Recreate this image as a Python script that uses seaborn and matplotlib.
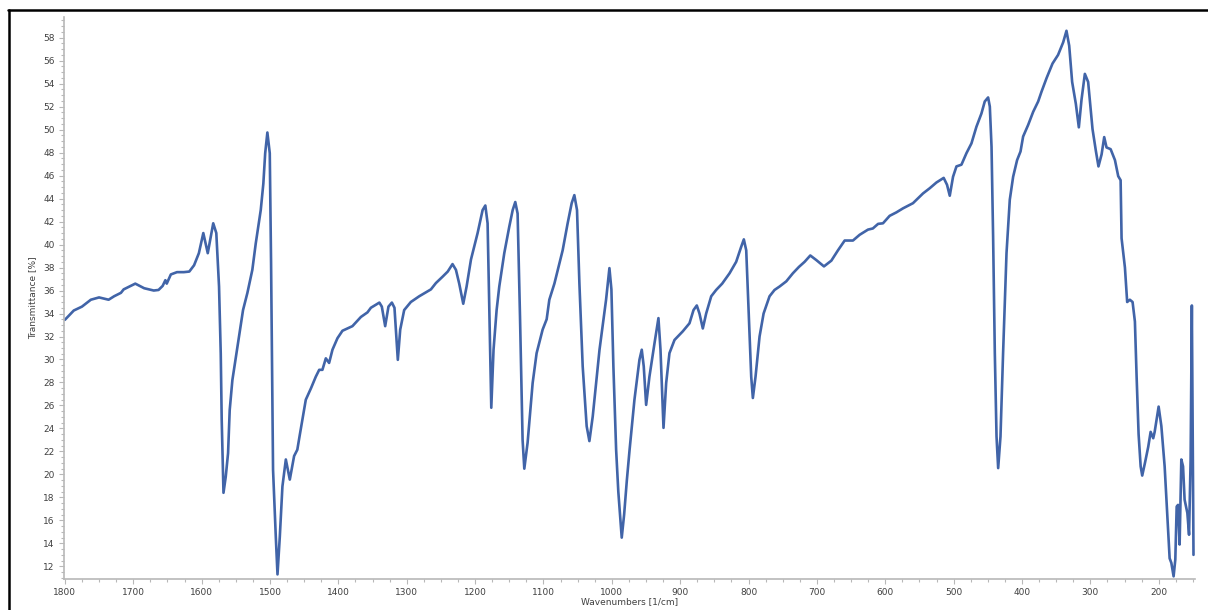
import matplotlib
matplotlib.use("Agg")
import matplotlib.pyplot as plt
from matplotlib.lines import Line2D
from matplotlib.ticker import MultipleLocator
import pandas as pd
import seaborn as sns

# Spectrum (wavenumber in 1/cm, transmittance in %)
wavenumbers = [
    1800, 1787, 1775, 1762, 1750, 1736, 1728, 1718, 1714, 1697, 1684, 1670,
    1663, 1657, 1653, 1651, 1645, 1636, 1626, 1618, 1611, 1604, 1597.5, 1591,
    1583, 1578.5, 1574.5, 1572, 1570.6, 1568, 1564.7, 1561.3, 1558.9, 1555,
    1549, 1543, 1539.4, 1533, 1525.8, 1520.8, 1513.5, 1509.7, 1507, 1503.8,
    1500.3, 1498.4, 1495.5, 1491.5, 1489, 1485.6, 1481.8, 1476.8, 1471, 1464.7,
    1460, 1456.5, 1447.6, 1440, 1433, 1428, 1423.3, 1418.3, 1413.5, 1408.6,
    1401.3, 1394, 1379.4, 1367, 1357.4, 1352.4, 1340, 1336.4, 1331.5, 1326.7,
    1321.7, 1317.9, 1313, 1309.5, 1303.7, 1294, 1281.7, 1264.6, 1257.3, 1247.6,
    1240, 1233, 1228, 1223.2, 1217.3, 1212.4, 1206, 1196.3, 1189, 1185,
    1181.7, 1179.2, 1176.3, 1173, 1168.5, 1164.6, 1157.3, 1150, 1145, 1141.2,
    1137.8, 1134.3, 1130.5, 1128, 1123.2, 1115.8, 1110, 1101.2, 1095.3, 1091.4,
    1084, 1071.9, 1064.6, 1058.7, 1054.8, 1050.9, 1047.4, 1042.6, 1036.8, 1032.8,
    1027.9, 1018, 1008.4, 1003.5, 1000.6, 997.7, 993.7, 990.5, 988, 985.5,
    982, 978, 974, 966.9, 959.6, 956.2, 953.3, 949.8, 945, 937.6,
    931.8, 928.8, 924.4, 920.5, 915.7, 908.3, 896.2, 886.4, 880.5, 875.7,
    871.8, 866.9, 862, 854.6, 847.4, 838.6, 827.8, 818.1, 810.8, 806.9,
    803.4, 799.6, 796.1, 793.7, 789.8, 783.9, 778, 769.3, 762, 754.6,
    744.8, 735.2, 726.4, 718, 709.7, 700.9, 689.7, 678.9, 669.2, 659.4,
    647.3, 637.5, 625.3, 618.2, 610.5, 603.4, 593.6, 583.8, 574.1, 559.5,
    544.8, 535, 525.2, 514.6, 509.7, 505.7, 500.9, 495.9, 488.6, 481.3,
    474, 466.7, 459.4, 454.5, 449.6, 447.1, 444.6, 442.3, 439.8, 437.3,
    434.9, 431.5, 427.7, 422.7, 417.9, 413, 407.2, 402.2, 398.4, 391.1,
    383.7, 376.4, 371.5, 364, 355.4, 347.3, 339.8, 335, 331, 326.7,
    321.3, 316.9, 313, 308.1, 303.3, 296.9, 292, 288.2, 283.6, 279.8,
    276.4, 270.4, 264.1, 259.3, 255.8, 254.4, 249.5, 246.2, 242.3, 238.3,
    234.9, 232.4, 229.5, 226.5, 224.2, 220.2, 215.4, 211.9, 208.1, 206,
    200.2, 196.2, 191.4, 187.4, 184.1, 181.6, 178.3, 175.8, 173.8, 171.8,
    169.5, 167, 164.5, 162.2, 158.2, 155.7, 153.4, 151.6, 149.2,
]
transmittance = [
    33.45, 34.26, 34.6, 35.2, 35.4, 35.2, 35.5, 35.8, 36.1, 36.6, 36.2, 36.0,
    36.05, 36.4, 36.9, 36.6, 37.4, 37.6, 37.6, 37.65, 38.2, 39.25, 41.0, 39.25,
    41.85, 41.0, 36.35, 30.5, 24.75, 18.4, 19.8, 21.85, 25.6, 28.2,
    30.55, 32.9, 34.3, 35.8, 37.8, 40.1, 43.0, 45.3, 47.95, 49.75,
    47.95, 38.4, 20.4, 14.6, 11.3, 14.6, 18.95, 21.3, 19.55, 21.6,
    22.15, 23.4, 26.5, 27.5, 28.5, 29.1, 29.1, 30.1, 29.7, 30.85,
    31.85, 32.5, 32.9, 33.7, 34.1, 34.5, 34.95, 34.6, 32.9, 34.6,
    34.95, 34.5, 29.97, 32.6, 34.3, 35.0, 35.5, 36.1, 36.65, 37.2,
    37.65, 38.3, 37.8, 36.6, 34.85, 36.35, 38.7, 41.0, 43.0, 43.4,
    41.85, 34.3, 25.8, 30.85, 34.3, 36.35, 39.25, 41.55, 43.0, 43.7,
    42.7, 33.75, 23.0, 20.5, 22.75, 27.95, 30.55, 32.6, 33.5, 35.2,
    36.6, 39.5, 41.85, 43.6, 44.3, 43.0, 36.6, 29.4, 24.2, 22.9,
    25.05, 30.85, 35.2, 37.95, 36.1, 29.4, 22.15, 18.5, 16.5, 14.5,
    16.5, 19.5, 22.15, 26.5, 29.97, 30.85, 29.4, 26.05, 28.5, 31.4,
    33.6, 30.85, 24.05, 27.95, 30.55, 31.7, 32.45, 33.15, 34.3, 34.7,
    34.0, 32.7, 34.0, 35.5, 36.05, 36.6, 37.5, 38.5, 39.8, 40.45,
    39.5, 33.75, 28.5, 26.65, 28.5, 32.0, 34.0, 35.5, 36.05, 36.35,
    36.8, 37.5, 38.05, 38.5, 39.05, 38.65, 38.1, 38.6, 39.5, 40.35,
    40.35, 40.85, 41.3, 41.4, 41.8, 41.85, 42.5, 42.8, 43.15, 43.6,
    44.45, 44.9, 45.4, 45.8, 45.2, 44.25, 45.9, 46.8, 46.95, 47.95,
    48.8, 50.25, 51.4, 52.45, 52.8, 52.0, 48.5, 40.7, 30.55, 23.3,
    20.55, 23.3, 30.55, 39.25, 43.9, 45.9, 47.35, 48.1, 49.4, 50.4,
    51.55, 52.45, 53.3, 54.5, 55.75, 56.5, 57.6, 58.6, 57.3, 54.15,
    52.25, 50.2, 52.6, 54.85, 54.15, 50.05, 48.15, 46.8, 47.85, 49.35,
    48.45, 48.3, 47.35, 45.95, 45.6, 40.55, 38.0, 35.0, 35.2, 35.0,
    33.3, 28.5, 23.5, 20.7, 19.9, 21.0, 22.4, 23.7, 23.15, 23.7,
    25.9, 24.2, 20.7, 16.35, 12.7, 12.3, 11.13, 12.6, 17.2, 17.35,
    13.9, 21.3, 20.7, 17.8, 16.65, 14.75, 21.3, 34.7, 13.0,
]

W, H = 1208, 610
LINE_COLOR = "#4164a8"
AXIS_COLOR = "#b8b8b8"
TEXT_COLOR = "#404040"

sns.set_style("white")
plt.rcParams["font.family"] = ["DejaVu Sans"]

df = pd.DataFrame({"wavenumber": wavenumbers, "transmittance": transmittance})

fig = plt.figure(figsize=(W / 100, H / 100), dpi=100)
ax = fig.add_axes([63.5 / W, 31 / H, (1195 - 63.5) / W, (579 - 17) / H])

sns.lineplot(data=df, x="wavenumber", y="transmittance", sort=False,
             estimator=None, color=LINE_COLOR, linewidth=1.9, ax=ax)

ax.set_xlim(1802, 147)
ax.set_ylim(10.9, 59.8)
ax.xaxis.set_major_locator(MultipleLocator(100))
ax.xaxis.set_minor_locator(MultipleLocator(25))
ax.yaxis.set_major_locator(MultipleLocator(2))
ax.yaxis.set_minor_locator(MultipleLocator(0.5))

for side in ["top", "right"]:
    ax.spines[side].set_visible(False)
for side in ["left", "bottom"]:
    ax.spines[side].set_color(AXIS_COLOR)
    ax.spines[side].set_linewidth(1.2)

ax.tick_params(which="both", bottom=True, left=True, direction="out",
               color=AXIS_COLOR, width=0.8)
ax.tick_params(which="major", length=3.5, labelsize=6.5,
               labelcolor=TEXT_COLOR, pad=3)
ax.tick_params(which="minor", length=2)

ax.set_xlabel("Wavenumbers [1/cm]", fontsize=6.5, color=TEXT_COLOR, labelpad=0)
ax.set_ylabel("Transmittance [%]", fontsize=6.5, color=TEXT_COLOR, labelpad=4)
ax.grid(False)

# black frame around the plot (only top and left edges visible)
fig.add_artist(Line2D([8.5 / W, 8.5 / W], [0, 1 - 10 / H],
                      transform=fig.transFigure, color="black", linewidth=1.8))
fig.add_artist(Line2D([8 / W, 1], [1 - 10 / H, 1 - 10 / H],
                      transform=fig.transFigure, color="black", linewidth=1.8))

fig.savefig("out.png", dpi=100)
plt.close(fig)
